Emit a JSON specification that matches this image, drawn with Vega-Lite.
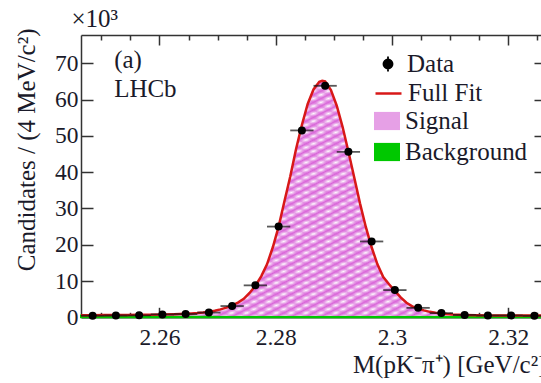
{
  "$schema": "https://vega.github.io/schema/vega-lite/v6.json",
  "width": 465,
  "height": 282.3,
  "autosize": {"type": "none"},
  "padding": {"left": 81, "top": 35, "right": 0, "bottom": 66},
  "background": "white",
  "config": {
    "view": {"stroke": null},
    "axis": {
      "grid": false,
      "domainColor": "#333333",
      "domainWidth": 1.5,
      "tickColor": "#333333",
      "tickWidth": 1.5,
      "labelFont": "Liberation Serif",
      "labelFontSize": 23.5,
      "labelColor": "#1a1a2a",
      "titleFont": "Liberation Serif",
      "titleFontSize": 25,
      "titleFontWeight": "normal",
      "titleColor": "#1a1a2a",
      "labelOverlap": false
    },
    "legend": {
      "orient": "none",
      "title": null,
      "labelFont": "Liberation Serif",
      "labelFontSize": 25,
      "labelColor": "#1a1a2a",
      "symbolSize": 676,
      "labelOffset": 5,
      "labelLimit": 300,
      "symbolOpacity": 1
    }
  },
  "datasets": {
    "curve": [
      {"m": 2.2465, "total": 0.55, "bg": 0.5},
      {"m": 2.2485, "total": 0.58, "bg": 0.5},
      {"m": 2.2505, "total": 0.6, "bg": 0.5},
      {"m": 2.2525, "total": 0.62, "bg": 0.49},
      {"m": 2.2545, "total": 0.65, "bg": 0.49},
      {"m": 2.2565, "total": 0.68, "bg": 0.49},
      {"m": 2.2585, "total": 0.72, "bg": 0.48},
      {"m": 2.2605, "total": 0.78, "bg": 0.48},
      {"m": 2.2625, "total": 0.86, "bg": 0.48},
      {"m": 2.2645, "total": 0.98, "bg": 0.47},
      {"m": 2.2655, "total": 1.06, "bg": 0.47},
      {"m": 2.2665, "total": 1.17, "bg": 0.47},
      {"m": 2.2675, "total": 1.32, "bg": 0.47},
      {"m": 2.2685, "total": 1.52, "bg": 0.47},
      {"m": 2.2695, "total": 1.8, "bg": 0.47},
      {"m": 2.2705, "total": 2.18, "bg": 0.46},
      {"m": 2.2715, "total": 2.68, "bg": 0.46},
      {"m": 2.2725, "total": 3.3, "bg": 0.46},
      {"m": 2.2735, "total": 4.05, "bg": 0.46},
      {"m": 2.2745, "total": 5.1, "bg": 0.46},
      {"m": 2.2755, "total": 6.7, "bg": 0.46},
      {"m": 2.2765, "total": 8.7, "bg": 0.46},
      {"m": 2.2775, "total": 11.3, "bg": 0.46},
      {"m": 2.2785, "total": 14.6, "bg": 0.46},
      {"m": 2.2795, "total": 19.3, "bg": 0.46},
      {"m": 2.2805, "total": 25.0, "bg": 0.46},
      {"m": 2.2815, "total": 32.0, "bg": 0.46},
      {"m": 2.2825, "total": 38.8, "bg": 0.46},
      {"m": 2.2835, "total": 46.4, "bg": 0.45},
      {"m": 2.2845, "total": 53.0, "bg": 0.45},
      {"m": 2.2855, "total": 58.8, "bg": 0.45},
      {"m": 2.2865, "total": 62.8, "bg": 0.45},
      {"m": 2.2875, "total": 64.9, "bg": 0.45},
      {"m": 2.288, "total": 65.2, "bg": 0.45},
      {"m": 2.2885, "total": 65.0, "bg": 0.45},
      {"m": 2.2895, "total": 62.6, "bg": 0.45},
      {"m": 2.2905, "total": 58.3, "bg": 0.45},
      {"m": 2.2915, "total": 52.5, "bg": 0.45},
      {"m": 2.2925, "total": 45.7, "bg": 0.45},
      {"m": 2.2935, "total": 38.6, "bg": 0.45},
      {"m": 2.2945, "total": 31.4, "bg": 0.45},
      {"m": 2.2955, "total": 24.9, "bg": 0.45},
      {"m": 2.2965, "total": 19.3, "bg": 0.45},
      {"m": 2.2975, "total": 14.6, "bg": 0.45},
      {"m": 2.2985, "total": 11.1, "bg": 0.44},
      {"m": 2.2995, "total": 9.1, "bg": 0.44},
      {"m": 2.3005, "total": 7.3, "bg": 0.44},
      {"m": 2.3015, "total": 5.5, "bg": 0.44},
      {"m": 2.3025, "total": 4.0, "bg": 0.44},
      {"m": 2.3035, "total": 3.0, "bg": 0.44},
      {"m": 2.3045, "total": 2.4, "bg": 0.44},
      {"m": 2.3055, "total": 1.9, "bg": 0.44},
      {"m": 2.3065, "total": 1.5, "bg": 0.43},
      {"m": 2.3075, "total": 1.25, "bg": 0.43},
      {"m": 2.3085, "total": 1.05, "bg": 0.43},
      {"m": 2.3095, "total": 0.88, "bg": 0.43},
      {"m": 2.3105, "total": 0.76, "bg": 0.43},
      {"m": 2.3125, "total": 0.62, "bg": 0.43},
      {"m": 2.3145, "total": 0.55, "bg": 0.42},
      {"m": 2.3165, "total": 0.52, "bg": 0.42},
      {"m": 2.3205, "total": 0.49, "bg": 0.42},
      {"m": 2.3245, "total": 0.47, "bg": 0.42},
      {"m": 2.3265, "total": 0.46, "bg": 0.42}
    ],
    "points": [
      {"m": 2.2485, "n": 0.45},
      {"m": 2.2525, "n": 0.5},
      {"m": 2.2565, "n": 0.55},
      {"m": 2.2605, "n": 0.8},
      {"m": 2.2645, "n": 0.9},
      {"m": 2.2685, "n": 1.3},
      {"m": 2.2725, "n": 3.1},
      {"m": 2.2765, "n": 8.8},
      {"m": 2.2805, "n": 25.0},
      {"m": 2.2845, "n": 51.5},
      {"m": 2.2885, "n": 63.8},
      {"m": 2.2925, "n": 45.6},
      {"m": 2.2965, "n": 20.9},
      {"m": 2.3005, "n": 7.5},
      {"m": 2.3045, "n": 2.6},
      {"m": 2.3085, "n": 1.15},
      {"m": 2.3125, "n": 0.65},
      {"m": 2.3165, "n": 0.5},
      {"m": 2.3205, "n": 0.5},
      {"m": 2.3245, "n": 0.4}
    ],
    "labels": [
      {"label": "(a)"}
    ]
  },
  "resolve": {
    "axis": {"x": "independent", "y": "independent"},
    "scale": {"color": "independent"},
    "legend": {"color": "independent"}
  },
  "layer": [
    {
      "data": {"name": "curve"},
      "mark": {"type": "area", "stroke": "#00c800", "strokeWidth": 2, "opacity": 1},
      "encoding": {
        "x": {"field": "m", "type": "quantitative",
          "scale": {"domain": [2.2465, 2.3265], "nice": false, "zero": false},
          "axis": {"orient": "bottom", "values": [2.26, 2.28, 2.3, 2.32], "format": ".2~f",
            "tickSize": -10, "labelPadding": 18, "title": "M(pK⁻π⁺) [GeV/c²]",
            "titleAnchor": "end", "titleBaseline": "alphabetic", "titleY": 55, "titleX": 465}},
        "y": {"field": "bg", "type": "quantitative",
          "scale": {"domain": [0, 77.8], "nice": false},
          "axis": {"orient": "left", "values": [0, 10, 20, 30, 40, 50, 60, 70], "format": "d",
            "tickSize": -12, "labelPadding": 15, "title": "Candidates / (4 MeV/c²)",
            "titleAnchor": "end", "titleAngle": -90, "titleBaseline": "alphabetic", "titleAlign": "right",
            "titleX": -47, "titleY": -7}},
        "color": {"datum": "Background", "type": "nominal",
          "scale": {"domain": ["Background"], "range": ["#00c800"]},
          "legend": {"legendX": 293, "legendY": 104,
            "symbolType": "M-1,-0.7L1,-0.7L1,0.7L-1,0.7Z", "symbolStrokeColor": "transparent", "symbolStrokeWidth": 0}}
      }
    },
    {
      "data": {"name": "curve"},
      "mark": {"type": "area", "opacity": 1},
      "encoding": {
        "x": {"field": "m", "type": "quantitative",
          "scale": {"domain": [2.2465, 2.3265], "nice": false, "zero": false},
          "axis": {"orient": "top", "values": [2.26, 2.28, 2.3, 2.32], "labels": false, "tickSize": -10, "title": null}},
        "y": {"field": "bg", "type": "quantitative", "scale": {"domain": [0, 77.8], "nice": false},
          "axis": {"orient": "right", "values": [0, 10, 20, 30, 40, 50, 60, 70], "labels": false, "tickSize": -12, "title": null}},
        "y2": {"field": "total"},
        "color": {"datum": "Signal", "type": "nominal",
          "scale": {"domain": ["Signal"], "range": ["#e6a0e6"]},
          "legend": {"legendX": 293, "legendY": 73,
            "symbolType": "M-1,-0.7L1,-0.7L1,0.7L-1,0.7Z", "symbolStrokeColor": "transparent", "symbolStrokeWidth": 0}}
      }
    },
    {
      "data": {"name": "curve"},
      "mark": {"type": "area", "opacity": 1,
        "color": {"gradient": "linear", "x1": 0, "y1": 0, "x2": 1, "y2": 1, "stops": [
          {"offset": 0, "color": "#ffffff"}, {"offset": 0.008, "color": "#d966d9"}, {"offset": 0.016, "color": "#ffffff"}, {"offset": 0.024, "color": "#d966d9"},
          {"offset": 0.032, "color": "#ffffff"}, {"offset": 0.04, "color": "#d966d9"}, {"offset": 0.048, "color": "#ffffff"}, {"offset": 0.056, "color": "#d966d9"},
          {"offset": 0.064, "color": "#ffffff"}, {"offset": 0.072, "color": "#d966d9"}, {"offset": 0.08, "color": "#ffffff"}, {"offset": 0.088, "color": "#d966d9"},
          {"offset": 0.096, "color": "#ffffff"}, {"offset": 0.104, "color": "#d966d9"}, {"offset": 0.112, "color": "#ffffff"}, {"offset": 0.12, "color": "#d966d9"},
          {"offset": 0.128, "color": "#ffffff"}, {"offset": 0.136, "color": "#d966d9"}, {"offset": 0.144, "color": "#ffffff"}, {"offset": 0.152, "color": "#d966d9"},
          {"offset": 0.16, "color": "#ffffff"}, {"offset": 0.168, "color": "#d966d9"}, {"offset": 0.176, "color": "#ffffff"}, {"offset": 0.184, "color": "#d966d9"},
          {"offset": 0.192, "color": "#ffffff"}, {"offset": 0.2, "color": "#d966d9"}, {"offset": 0.208, "color": "#ffffff"}, {"offset": 0.216, "color": "#d966d9"},
          {"offset": 0.224, "color": "#ffffff"}, {"offset": 0.232, "color": "#d966d9"}, {"offset": 0.24, "color": "#ffffff"}, {"offset": 0.248, "color": "#d966d9"},
          {"offset": 0.256, "color": "#ffffff"}, {"offset": 0.264, "color": "#d966d9"}, {"offset": 0.272, "color": "#ffffff"}, {"offset": 0.28, "color": "#d966d9"},
          {"offset": 0.288, "color": "#ffffff"}, {"offset": 0.296, "color": "#d966d9"}, {"offset": 0.304, "color": "#ffffff"}, {"offset": 0.312, "color": "#d966d9"},
          {"offset": 0.32, "color": "#ffffff"}, {"offset": 0.328, "color": "#d966d9"}, {"offset": 0.336, "color": "#ffffff"}, {"offset": 0.344, "color": "#d966d9"},
          {"offset": 0.352, "color": "#ffffff"}, {"offset": 0.36, "color": "#d966d9"}, {"offset": 0.368, "color": "#ffffff"}, {"offset": 0.376, "color": "#d966d9"},
          {"offset": 0.384, "color": "#ffffff"}, {"offset": 0.392, "color": "#d966d9"}, {"offset": 0.4, "color": "#ffffff"}, {"offset": 0.408, "color": "#d966d9"},
          {"offset": 0.416, "color": "#ffffff"}, {"offset": 0.424, "color": "#d966d9"}, {"offset": 0.432, "color": "#ffffff"}, {"offset": 0.44, "color": "#d966d9"},
          {"offset": 0.448, "color": "#ffffff"}, {"offset": 0.456, "color": "#d966d9"}, {"offset": 0.464, "color": "#ffffff"}, {"offset": 0.472, "color": "#d966d9"},
          {"offset": 0.48, "color": "#ffffff"}, {"offset": 0.488, "color": "#d966d9"}, {"offset": 0.496, "color": "#ffffff"}, {"offset": 0.504, "color": "#d966d9"},
          {"offset": 0.512, "color": "#ffffff"}, {"offset": 0.52, "color": "#d966d9"}, {"offset": 0.528, "color": "#ffffff"}, {"offset": 0.536, "color": "#d966d9"},
          {"offset": 0.544, "color": "#ffffff"}, {"offset": 0.552, "color": "#d966d9"}, {"offset": 0.56, "color": "#ffffff"}, {"offset": 0.568, "color": "#d966d9"},
          {"offset": 0.576, "color": "#ffffff"}, {"offset": 0.584, "color": "#d966d9"}, {"offset": 0.592, "color": "#ffffff"}, {"offset": 0.6, "color": "#d966d9"},
          {"offset": 0.608, "color": "#ffffff"}, {"offset": 0.616, "color": "#d966d9"}, {"offset": 0.624, "color": "#ffffff"}, {"offset": 0.632, "color": "#d966d9"},
          {"offset": 0.64, "color": "#ffffff"}, {"offset": 0.648, "color": "#d966d9"}, {"offset": 0.656, "color": "#ffffff"}, {"offset": 0.664, "color": "#d966d9"},
          {"offset": 0.672, "color": "#ffffff"}, {"offset": 0.68, "color": "#d966d9"}, {"offset": 0.688, "color": "#ffffff"}, {"offset": 0.696, "color": "#d966d9"},
          {"offset": 0.704, "color": "#ffffff"}, {"offset": 0.712, "color": "#d966d9"}, {"offset": 0.72, "color": "#ffffff"}, {"offset": 0.728, "color": "#d966d9"},
          {"offset": 0.736, "color": "#ffffff"}, {"offset": 0.744, "color": "#d966d9"}, {"offset": 0.752, "color": "#ffffff"}, {"offset": 0.76, "color": "#d966d9"},
          {"offset": 0.768, "color": "#ffffff"}, {"offset": 0.776, "color": "#d966d9"}, {"offset": 0.784, "color": "#ffffff"}, {"offset": 0.792, "color": "#d966d9"},
          {"offset": 0.8, "color": "#ffffff"}, {"offset": 0.808, "color": "#d966d9"}, {"offset": 0.816, "color": "#ffffff"}, {"offset": 0.824, "color": "#d966d9"},
          {"offset": 0.832, "color": "#ffffff"}, {"offset": 0.84, "color": "#d966d9"}, {"offset": 0.848, "color": "#ffffff"}, {"offset": 0.856, "color": "#d966d9"},
          {"offset": 0.864, "color": "#ffffff"}, {"offset": 0.872, "color": "#d966d9"}, {"offset": 0.88, "color": "#ffffff"}, {"offset": 0.888, "color": "#d966d9"},
          {"offset": 0.896, "color": "#ffffff"}, {"offset": 0.904, "color": "#d966d9"}, {"offset": 0.912, "color": "#ffffff"}, {"offset": 0.92, "color": "#d966d9"},
          {"offset": 0.928, "color": "#ffffff"}, {"offset": 0.936, "color": "#d966d9"}, {"offset": 0.944, "color": "#ffffff"}, {"offset": 0.952, "color": "#d966d9"},
          {"offset": 0.96, "color": "#ffffff"}, {"offset": 0.968, "color": "#d966d9"}, {"offset": 0.976, "color": "#ffffff"}, {"offset": 0.984, "color": "#d966d9"},
          {"offset": 0.992, "color": "#ffffff"}, {"offset": 1, "color": "#d966d9"}
        ]}},
      "encoding": {
        "x": {"field": "m", "type": "quantitative",
          "scale": {"domain": [2.2465, 2.3265], "nice": false, "zero": false}, "axis": null},
        "y": {"field": "bg", "type": "quantitative", "scale": {"domain": [0, 77.8], "nice": false}, "axis": null},
        "y2": {"field": "total"}
      }
    },
    {
      "data": {"name": "curve"},
      "mark": {"type": "area", "opacity": 1,
        "color": {"gradient": "linear", "x1": 1, "y1": 0, "x2": 0, "y2": 1, "stops": [
          {"offset": 0, "color": "rgba(217,102,217,0)"}, {"offset": 0.008, "color": "rgba(217,102,217,0.6)"}, {"offset": 0.016, "color": "rgba(217,102,217,0)"}, {"offset": 0.024, "color": "rgba(217,102,217,0.6)"},
          {"offset": 0.032, "color": "rgba(217,102,217,0)"}, {"offset": 0.04, "color": "rgba(217,102,217,0.6)"}, {"offset": 0.048, "color": "rgba(217,102,217,0)"}, {"offset": 0.056, "color": "rgba(217,102,217,0.6)"},
          {"offset": 0.064, "color": "rgba(217,102,217,0)"}, {"offset": 0.072, "color": "rgba(217,102,217,0.6)"}, {"offset": 0.08, "color": "rgba(217,102,217,0)"}, {"offset": 0.088, "color": "rgba(217,102,217,0.6)"},
          {"offset": 0.096, "color": "rgba(217,102,217,0)"}, {"offset": 0.104, "color": "rgba(217,102,217,0.6)"}, {"offset": 0.112, "color": "rgba(217,102,217,0)"}, {"offset": 0.12, "color": "rgba(217,102,217,0.6)"},
          {"offset": 0.128, "color": "rgba(217,102,217,0)"}, {"offset": 0.136, "color": "rgba(217,102,217,0.6)"}, {"offset": 0.144, "color": "rgba(217,102,217,0)"}, {"offset": 0.152, "color": "rgba(217,102,217,0.6)"},
          {"offset": 0.16, "color": "rgba(217,102,217,0)"}, {"offset": 0.168, "color": "rgba(217,102,217,0.6)"}, {"offset": 0.176, "color": "rgba(217,102,217,0)"}, {"offset": 0.184, "color": "rgba(217,102,217,0.6)"},
          {"offset": 0.192, "color": "rgba(217,102,217,0)"}, {"offset": 0.2, "color": "rgba(217,102,217,0.6)"}, {"offset": 0.208, "color": "rgba(217,102,217,0)"}, {"offset": 0.216, "color": "rgba(217,102,217,0.6)"},
          {"offset": 0.224, "color": "rgba(217,102,217,0)"}, {"offset": 0.232, "color": "rgba(217,102,217,0.6)"}, {"offset": 0.24, "color": "rgba(217,102,217,0)"}, {"offset": 0.248, "color": "rgba(217,102,217,0.6)"},
          {"offset": 0.256, "color": "rgba(217,102,217,0)"}, {"offset": 0.264, "color": "rgba(217,102,217,0.6)"}, {"offset": 0.272, "color": "rgba(217,102,217,0)"}, {"offset": 0.28, "color": "rgba(217,102,217,0.6)"},
          {"offset": 0.288, "color": "rgba(217,102,217,0)"}, {"offset": 0.296, "color": "rgba(217,102,217,0.6)"}, {"offset": 0.304, "color": "rgba(217,102,217,0)"}, {"offset": 0.312, "color": "rgba(217,102,217,0.6)"},
          {"offset": 0.32, "color": "rgba(217,102,217,0)"}, {"offset": 0.328, "color": "rgba(217,102,217,0.6)"}, {"offset": 0.336, "color": "rgba(217,102,217,0)"}, {"offset": 0.344, "color": "rgba(217,102,217,0.6)"},
          {"offset": 0.352, "color": "rgba(217,102,217,0)"}, {"offset": 0.36, "color": "rgba(217,102,217,0.6)"}, {"offset": 0.368, "color": "rgba(217,102,217,0)"}, {"offset": 0.376, "color": "rgba(217,102,217,0.6)"},
          {"offset": 0.384, "color": "rgba(217,102,217,0)"}, {"offset": 0.392, "color": "rgba(217,102,217,0.6)"}, {"offset": 0.4, "color": "rgba(217,102,217,0)"}, {"offset": 0.408, "color": "rgba(217,102,217,0.6)"},
          {"offset": 0.416, "color": "rgba(217,102,217,0)"}, {"offset": 0.424, "color": "rgba(217,102,217,0.6)"}, {"offset": 0.432, "color": "rgba(217,102,217,0)"}, {"offset": 0.44, "color": "rgba(217,102,217,0.6)"},
          {"offset": 0.448, "color": "rgba(217,102,217,0)"}, {"offset": 0.456, "color": "rgba(217,102,217,0.6)"}, {"offset": 0.464, "color": "rgba(217,102,217,0)"}, {"offset": 0.472, "color": "rgba(217,102,217,0.6)"},
          {"offset": 0.48, "color": "rgba(217,102,217,0)"}, {"offset": 0.488, "color": "rgba(217,102,217,0.6)"}, {"offset": 0.496, "color": "rgba(217,102,217,0)"}, {"offset": 0.504, "color": "rgba(217,102,217,0.6)"},
          {"offset": 0.512, "color": "rgba(217,102,217,0)"}, {"offset": 0.52, "color": "rgba(217,102,217,0.6)"}, {"offset": 0.528, "color": "rgba(217,102,217,0)"}, {"offset": 0.536, "color": "rgba(217,102,217,0.6)"},
          {"offset": 0.544, "color": "rgba(217,102,217,0)"}, {"offset": 0.552, "color": "rgba(217,102,217,0.6)"}, {"offset": 0.56, "color": "rgba(217,102,217,0)"}, {"offset": 0.568, "color": "rgba(217,102,217,0.6)"},
          {"offset": 0.576, "color": "rgba(217,102,217,0)"}, {"offset": 0.584, "color": "rgba(217,102,217,0.6)"}, {"offset": 0.592, "color": "rgba(217,102,217,0)"}, {"offset": 0.6, "color": "rgba(217,102,217,0.6)"},
          {"offset": 0.608, "color": "rgba(217,102,217,0)"}, {"offset": 0.616, "color": "rgba(217,102,217,0.6)"}, {"offset": 0.624, "color": "rgba(217,102,217,0)"}, {"offset": 0.632, "color": "rgba(217,102,217,0.6)"},
          {"offset": 0.64, "color": "rgba(217,102,217,0)"}, {"offset": 0.648, "color": "rgba(217,102,217,0.6)"}, {"offset": 0.656, "color": "rgba(217,102,217,0)"}, {"offset": 0.664, "color": "rgba(217,102,217,0.6)"},
          {"offset": 0.672, "color": "rgba(217,102,217,0)"}, {"offset": 0.68, "color": "rgba(217,102,217,0.6)"}, {"offset": 0.688, "color": "rgba(217,102,217,0)"}, {"offset": 0.696, "color": "rgba(217,102,217,0.6)"},
          {"offset": 0.704, "color": "rgba(217,102,217,0)"}, {"offset": 0.712, "color": "rgba(217,102,217,0.6)"}, {"offset": 0.72, "color": "rgba(217,102,217,0)"}, {"offset": 0.728, "color": "rgba(217,102,217,0.6)"},
          {"offset": 0.736, "color": "rgba(217,102,217,0)"}, {"offset": 0.744, "color": "rgba(217,102,217,0.6)"}, {"offset": 0.752, "color": "rgba(217,102,217,0)"}, {"offset": 0.76, "color": "rgba(217,102,217,0.6)"},
          {"offset": 0.768, "color": "rgba(217,102,217,0)"}, {"offset": 0.776, "color": "rgba(217,102,217,0.6)"}, {"offset": 0.784, "color": "rgba(217,102,217,0)"}, {"offset": 0.792, "color": "rgba(217,102,217,0.6)"},
          {"offset": 0.8, "color": "rgba(217,102,217,0)"}, {"offset": 0.808, "color": "rgba(217,102,217,0.6)"}, {"offset": 0.816, "color": "rgba(217,102,217,0)"}, {"offset": 0.824, "color": "rgba(217,102,217,0.6)"},
          {"offset": 0.832, "color": "rgba(217,102,217,0)"}, {"offset": 0.84, "color": "rgba(217,102,217,0.6)"}, {"offset": 0.848, "color": "rgba(217,102,217,0)"}, {"offset": 0.856, "color": "rgba(217,102,217,0.6)"},
          {"offset": 0.864, "color": "rgba(217,102,217,0)"}, {"offset": 0.872, "color": "rgba(217,102,217,0.6)"}, {"offset": 0.88, "color": "rgba(217,102,217,0)"}, {"offset": 0.888, "color": "rgba(217,102,217,0.6)"},
          {"offset": 0.896, "color": "rgba(217,102,217,0)"}, {"offset": 0.904, "color": "rgba(217,102,217,0.6)"}, {"offset": 0.912, "color": "rgba(217,102,217,0)"}, {"offset": 0.92, "color": "rgba(217,102,217,0.6)"},
          {"offset": 0.928, "color": "rgba(217,102,217,0)"}, {"offset": 0.936, "color": "rgba(217,102,217,0.6)"}, {"offset": 0.944, "color": "rgba(217,102,217,0)"}, {"offset": 0.952, "color": "rgba(217,102,217,0.6)"},
          {"offset": 0.96, "color": "rgba(217,102,217,0)"}, {"offset": 0.968, "color": "rgba(217,102,217,0.6)"}, {"offset": 0.976, "color": "rgba(217,102,217,0)"}, {"offset": 0.984, "color": "rgba(217,102,217,0.6)"},
          {"offset": 0.992, "color": "rgba(217,102,217,0)"}, {"offset": 1, "color": "rgba(217,102,217,0.6)"}
        ]}},
      "encoding": {
        "x": {"field": "m", "type": "quantitative",
          "scale": {"domain": [2.2465, 2.3265], "nice": false, "zero": false}, "axis": null},
        "y": {"field": "bg", "type": "quantitative", "scale": {"domain": [0, 77.8], "nice": false}, "axis": null},
        "y2": {"field": "total"}
      }
    },
    {
      "data": {"name": "curve"},
      "mark": {"type": "line", "strokeWidth": 2.5},
      "encoding": {
        "x": {"field": "m", "type": "quantitative",
          "scale": {"domain": [2.2465, 2.3265], "nice": false, "zero": false},
          "axis": {"orient": "bottom", "values": [2.25, 2.255, 2.265, 2.27, 2.275, 2.285, 2.29, 2.295, 2.305, 2.31, 2.315, 2.325],
            "labels": false, "domain": false, "tickSize": -5, "title": null}},
        "y": {"field": "total", "type": "quantitative", "scale": {"domain": [0, 77.8], "nice": false}, "axis": null},
        "color": {"datum": "Full Fit", "type": "nominal",
          "scale": {"domain": ["Full Fit"], "range": ["#d81818"]},
          "legend": {"legendX": 293, "legendY": 44,
            "symbolType": "stroke", "symbolStrokeWidth": 2.5}}
      }
    },
    {
      "data": {"name": "points"},
      "mark": {"type": "tick", "orient": "horizontal", "size": 23.3, "thickness": 1.8, "color": "#111111"},
      "encoding": {
        "x": {"field": "m", "type": "quantitative",
          "scale": {"domain": [2.2465, 2.3265], "nice": false, "zero": false},
          "axis": {"orient": "top", "values": [2.25, 2.255, 2.265, 2.27, 2.275, 2.285, 2.29, 2.295, 2.305, 2.31, 2.315, 2.325],
            "labels": false, "domain": false, "tickSize": -5, "title": null}},
        "y": {"field": "n", "type": "quantitative", "scale": {"domain": [0, 77.8], "nice": false}, "axis": null}
      }
    },
    {
      "data": {"name": "points"},
      "mark": {"type": "point", "filled": true, "size": 64, "opacity": 1},
      "encoding": {
        "x": {"field": "m", "type": "quantitative",
          "scale": {"domain": [2.2465, 2.3265], "nice": false, "zero": false}, "axis": null},
        "y": {"field": "n", "type": "quantitative", "scale": {"domain": [0, 77.8], "nice": false}, "axis": null},
        "color": {"datum": "Data", "type": "nominal",
          "scale": {"domain": ["Data"], "range": ["#000000"]},
          "legend": {"legendX": 293, "legendY": 15,
            "symbolType": "M-0.35,0A0.35,0.35,0,1,1,0.35,0A0.35,0.35,0,1,1,-0.35,0ZM0,-0.58L0,0.58",
            "symbolStrokeColor": "#000000", "symbolFillColor": "#000000", "symbolStrokeWidth": 1.8}}
      }
    },
    {
      "data": {"name": "labels"},
      "mark": {"type": "text", "text": "(a)", "font": "Liberation Serif", "fontSize": 25, "align": "left", "baseline": "alphabetic", "color": "#1a1a2a"},
      "encoding": {
        "x": {"datum": 2.2522, "type": "quantitative", "scale": {"domain": [2.2465, 2.3265], "nice": false, "zero": false}, "axis": null},
        "y": {"datum": 68.6, "type": "quantitative", "scale": {"domain": [0, 77.8], "nice": false}, "axis": null}
      }
    },
    {
      "data": {"name": "labels"},
      "mark": {"type": "text", "text": "LHCb", "font": "Liberation Serif", "fontSize": 25, "align": "left", "baseline": "alphabetic", "color": "#1a1a2a"},
      "encoding": {
        "x": {"datum": 2.2522, "type": "quantitative", "scale": {"domain": [2.2465, 2.3265], "nice": false, "zero": false}, "axis": null},
        "y": {"datum": 60.6, "type": "quantitative", "scale": {"domain": [0, 77.8], "nice": false}, "axis": null}
      }
    },
    {
      "data": {"name": "labels"},
      "mark": {"type": "text", "text": "×10³", "font": "Liberation Serif", "fontSize": 25, "align": "left", "baseline": "alphabetic", "color": "#1a1a2a"},
      "encoding": {
        "x": {"datum": 2.24485, "type": "quantitative", "scale": {"domain": [2.2465, 2.3265], "nice": false, "zero": false}, "axis": null},
        "y": {"datum": 80.0, "type": "quantitative", "scale": {"domain": [0, 77.8], "nice": false}, "axis": null}
      }
    }
  ]
}
